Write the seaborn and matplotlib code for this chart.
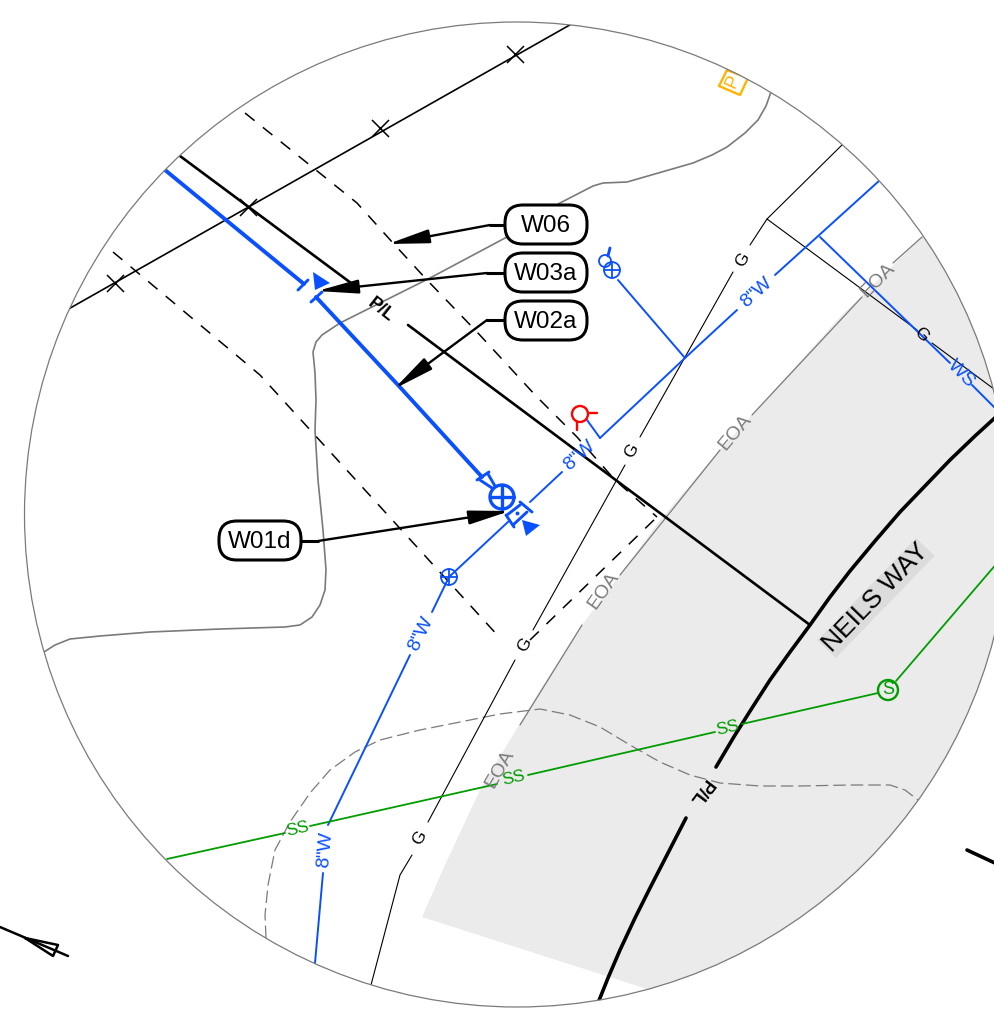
#!/usr/bin/env python3.12
# coding=utf-8
from matplotlib import pyplot as plt
from matplotlib.patches import Circle, FancyBboxPatch
import pandas as pd
import seaborn as sns

sheet_w, sheet_h = 995, 1011
view_x, view_y, view_r = 517, 514.5, 492.5

road_area = [(422, 917), (445, 865), (480, 790), (540, 690), (582, 625), (620, 575), (660, 520),
             (720, 450), (752, 415), (840, 317), (922, 237), (1010, 160), (1010, 1030), (700, 1012), (650, 990)]

property_line = [[(180, 156), (355, 286)], [(408, 325), (810, 625)]]
road_centre = [[(998, 415), (975, 436), (950, 460), (925, 486), (900, 512), (875, 541), (850, 571), (830, 597), (810, 625),
                (790, 652), (770, 680), (752, 708), (735, 735), (716, 767)],
               [(686, 818), (668, 853), (650, 888), (635, 918), (620, 950), (608, 978), (598, 1003)]]
fence = [[(65, 311), (575, 22)]]
fence_marks_x = [115, 248, 380, 515]
fence_marks_y = [283, 207, 128, 54]
row_dashed = [[(245, 113), (357, 203), (393, 243), (427, 280), (477, 332), (537, 397), (577, 437), (615, 480), (657, 517)],
              [(113, 252), (260, 375), (500, 638)],
              [(530, 640), (657, 517)]]
contour = [[(44, 652), (55, 645), (70, 639), (100, 636), (150, 632), (220, 629), (285, 627), (300, 625), (312, 617),
            (320, 605), (325, 590), (326, 570), (323, 530), (318, 480), (315, 430), (316, 400), (315, 373), (313, 352),
            (316, 342), (322, 335), (340, 323), (430, 278), (507, 237), (560, 203), (593, 186), (603, 183),
            (627, 182), (693, 163), (712, 155), (727, 147), (745, 133), (758, 120), (766, 106), (771, 92)]]
gas = [[(371, 985), (400, 875), (412, 855)], [(428, 822), (515, 660)], [(533, 630), (625, 465)],
       [(640, 437), (733, 272)], [(750, 245), (767, 219), (845, 142)], [(767, 219), (840, 273), (917, 330)],
       [(932, 343), (998, 392)]]
water_main = [[(315, 963), (323, 873)], [(328, 825), (410, 655)], [(432, 612), (449, 577), (509, 521)], [(530, 502), (562, 472)],
              [(600, 438), (685, 358), (737, 310)], [(775, 275), (880, 180)], [(685, 358), (618, 280)],
              [(587, 420), (600, 438)], [(820, 237), (950, 363)], [(972, 385), (998, 411)]]
water_new = [[(165, 170), (304, 284)], [(316, 297), (398, 385), (482, 477)]]
water_fittings = [[(298, 290), (308, 280)], [(311, 302), (322, 292)], [(477, 480), (489, 472)],
                  [(480, 480), (492, 488)], [(488, 474), (495, 486)], [(506, 515), (514, 527)],
                  [(520, 502), (532, 512)], [(507, 515), (520, 505)], [(513, 525), (527, 512)], [(610, 248), (608, 256)]]
water_flags = [[(313, 272), (330, 283), (315, 290)], [(522, 520), (540, 525), (526, 536)]]
water_dot_x, water_dot_y = [517], [513]
hydrant = [[(590, 413), (597, 413)], [(577, 422), (577, 430)]]
sewer = [[(167, 859), (285, 833)], [(310, 826), (497, 784)], [(528, 775), (715, 732)],
         [(742, 724), (878, 693)], [(896, 681), (998, 562)]]
sewer_hole = (888, 690, 10)
eoa = [[(520, 725), (582, 625)], [(620, 575), (720, 450)], [(752, 415), (862, 297)], [(893, 263), (922, 237)]]
old_edge = [[(266, 938), (265, 915), (268, 885), (275, 850), (290, 822), (310, 793), (330, 770), (355, 752), (380, 740),
             (420, 730), (460, 722), (500, 714), (540, 709), (570, 715), (600, 727), (630, 745), (660, 762), (690, 775),
             (720, 783), (760, 786), (800, 786), (850, 785), (890, 785), (905, 790), (918, 800)]]
parking = [[(727, 70), (719, 86), (740, 95), (748, 78), (727, 70)]]

blue_rings = [(449, 577, 8, 1.3, True), (502, 497, 12, 2.4, True), (612, 270, 8, 1.3, True), (605, 261, 6, 1.3, False)]
red_ring = (580, 414, 8)

callout_names = ["W06", "W03a", "W02a", "W01d"]
callout_boxes = [(505, 205), (505, 253), (505, 301), (219, 521)]
callout_elbows = [[(505, 225), (490, 225)], [(505, 273), (487, 273)], [(505, 320), (487, 320)], [(301, 541), (318, 541)]]
callout_tips = [(388, 244), (317, 291), (394, 389), (510, 511)]

water_labels = [('8"W', 325, 850, 85), ('8"W', 421, 634, 64), ('8"W', 579, 456, 42), ('8"W', 756, 293, 42), ('WS', 961, 374, -45)]
gas_labels = [(420, 838), (525, 645), (632, 451), (743, 260), (921, 335)]
gas_rot = [60, 60, 60, 60, -45]
sewer_labels = [(298, 829), (514, 778), (728, 728)]
eoa_labels = [(500, 769, 60), (603, 591, 55), (735, 432, 50), (878, 280, 45)]
line_tags = [(381, 310, -38), (700, 792, -127)]
north_arrow = [[(0, 927), (68, 956)], [(25, 938), (58, 945), (53, 956), (25, 938)]]
match_tick = [[(967, 850), (997, 864)]]

BLUE = '#0a50ff'
GREEN = '#009c00'
GRAY = '#7a7a7a'


def draw_segments(ax, segments, color, width, **kws):
    """Draw polylines through seaborn, one unit per segment."""
    rows = [(i, x, y) for i, seg in enumerate(segments) for x, y in seg]
    df = pd.DataFrame(rows, columns=['seg', 'x', 'y'])
    sns.lineplot(data=df, x='x', y='y', units='seg', estimator=None, sort=False,
                 color=color, linewidth=width, legend=False, ax=ax, **kws)


def draw_ring(ax, x, y, r, color, width, cross=False):
    ax.add_patch(Circle((x, y), r, fill=False, edgecolor=color, linewidth=width, zorder=4))
    if cross:
        draw_segments(ax, [[(x - r, y), (x + r, y)], [(x, y - r), (x, y + r)]], color, width)


def main():
    sns.set_theme(style='white')
    plt.rcParams['font.family'] = ['Liberation Sans', 'DejaVu Sans']

    fig = plt.figure(figsize=(sheet_w / 100, sheet_h / 100), dpi=100)
    ax = fig.add_axes([0, 0, 1, 1])

    ax.fill(*zip(*road_area), color='#ebebeb', linewidth=0, zorder=0)

    draw_segments(ax, old_edge, GRAY, 0.9, linestyle=(0, (10, 4)))
    draw_segments(ax, contour, GRAY, 1.2)
    draw_segments(ax, eoa, GRAY, 0.9)
    draw_segments(ax, row_dashed, 'black', 1.1, linestyle=(0, (8, 7)))
    draw_segments(ax, fence, 'black', 1.2)
    draw_segments(ax, gas, 'black', 0.8)
    draw_segments(ax, property_line, 'black', 1.9)
    draw_segments(ax, road_centre, 'black', 2.6)
    draw_segments(ax, water_main, BLUE, 1.4)
    draw_segments(ax, water_new, BLUE, 2.8)
    draw_segments(ax, water_fittings, BLUE, 2.1)
    draw_segments(ax, sewer, GREEN, 1.3)
    draw_segments(ax, hydrant, 'red', 1.7)
    draw_segments(ax, parking, '#ffb400', 1.7)

    sns.scatterplot(x=fence_marks_x, y=fence_marks_y, marker='x', s=150, color='black',
                    linewidth=1.1, legend=False, ax=ax, zorder=3)
    sns.scatterplot(x=water_dot_x, y=water_dot_y, s=8, color=BLUE, linewidth=0, legend=False, ax=ax, zorder=4)

    for flag in water_flags:
        ax.fill(*zip(*flag), color=BLUE, linewidth=0, zorder=4)
    for x, y, r, w, cross in blue_rings:
        draw_ring(ax, x, y, r, BLUE, w, cross)
    draw_ring(ax, *red_ring, 'red', 1.7)
    draw_ring(ax, *sewer_hole, GREEN, 1.7)

    for label, x, y, rot in water_labels:
        ax.text(x, y, label, color=BLUE, fontsize=14, rotation=rot, rotation_mode='anchor',
                ha='center', va='center')
    for (x, y), rot in zip(gas_labels, gas_rot):
        ax.text(x, y, 'G', color='black', fontsize=12.5, rotation=rot, rotation_mode='anchor',
                ha='center', va='center')
    for x, y in sewer_labels:
        ax.text(x, y, 'SS', color=GREEN, fontsize=12.5, rotation=13, rotation_mode='anchor',
                ha='center', va='center')
    for x, y, rot in eoa_labels:
        ax.text(x, y, 'EOA', color=GRAY, fontsize=14, rotation=rot, rotation_mode='anchor',
                ha='center', va='center')
    for x, y, rot in line_tags:
        ax.text(x, y, 'P/L', color='black', fontsize=13, fontweight='bold', rotation=rot,
                rotation_mode='anchor', ha='center', va='center')
    ax.text(888.5, 690, 'S', color=GREEN, fontsize=13, ha='center', va='center')
    ax.text(733, 82, 'P', color='#ffb400', fontsize=13, rotation=65, rotation_mode='anchor',
            ha='center', va='center')
    ax.text(876, 598, 'NEILS WAY', color='black', fontsize=19, rotation=46, rotation_mode='anchor',
            ha='center', va='center',
            bbox=dict(facecolor='#dcdcdc', edgecolor='none', pad=0.5))

    # everything above stays inside the round detail view
    view = Circle((view_x, view_y), view_r, transform=ax.transData)
    for artist in ax.lines + list(ax.patches) + list(ax.texts) + list(ax.collections):
        artist.set_clip_path(view)
        artist.set_clip_on(True)

    ax.add_patch(Circle((view_x, view_y), view_r, fill=False, edgecolor=GRAY, linewidth=0.9, zorder=2))
    draw_segments(ax, north_arrow, 'black', 1.8)
    draw_segments(ax, match_tick, 'black', 2.6)

    for name, (bx, by), elbow, tip in zip(callout_names, callout_boxes, callout_elbows, callout_tips):
        draw_segments(ax, [elbow], 'black', 2.2)
        ax.annotate('', xy=tip, xytext=elbow[-1], zorder=5,
                    arrowprops=dict(arrowstyle='-|>,head_length=25,head_width=4.2', mutation_scale=1,
                                    shrinkA=0, shrinkB=0, color='black', linewidth=1.7))
        ax.add_patch(FancyBboxPatch((bx + 18, by + 18), 46, 3, boxstyle='round,pad=18',
                                    facecolor='white', edgecolor='black', linewidth=2.2, zorder=6))
        ax.text(bx + 41, by + 21.5, name, color='black', fontsize=17.5, ha='center', va='center', zorder=7)

    ax.set_xlim(0, sheet_w)
    ax.set_ylim(sheet_h, 0)
    ax.set_axis_off()
    fig.savefig('out.png', dpi=100, facecolor='white')


if __name__ == "__main__":
    main()
